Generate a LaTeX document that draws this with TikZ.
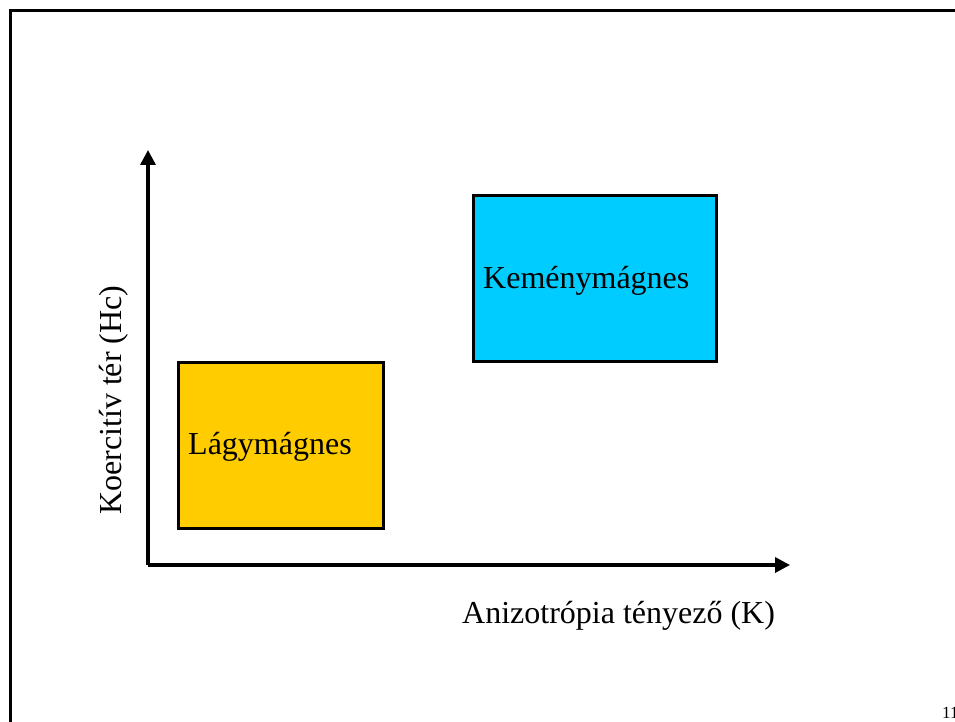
\documentclass[tikz,border=0pt]{standalone}
\usepackage{fontspec}
\setmainfont{Liberation Serif}
\usetikzlibrary{arrows.meta}
\definecolor{softyellow}{HTML}{FFCC00}
\definecolor{hardblue}{HTML}{00CCFF}
\tikzset{
  box/.style={draw=black,line width=3pt},
  axis/.style={line width=3.4pt,-{Triangle[length=15pt,width=15pt]}},
  lbl/.style={inner sep=0pt,anchor=base west,font=\fontsize{32}{38}\selectfont},
}
\begin{document}
\begin{tikzpicture}[x=1pt,y=-1pt]
\useasboundingbox (0,0) rectangle (955,722);
\begin{scope}
\clip (0,0) rectangle (955,722);
\draw[line width=2.8pt] (10.5,10.5) rectangle (980,740);
\node[inner sep=0pt,anchor=base west,font=\fontsize{17}{20}\selectfont] (pg) at (942,718) {11};
\end{scope}
\draw[box,fill=softyellow] (178,362) rectangle (383,528);
\draw[box,fill=hardblue] (473,196) rectangle (716,361);
\node[lbl] (soft) at (188,454) {Lágymágnes};
\node[lbl] (hard) at (483,288) {Keménymágnes};
\coordinate (o) at (148,565);
\coordinate (ytop) at (148,150);
\coordinate (xend) at (790,565);
\draw[axis] (o) -- (ytop);
\draw[axis] (o) -- (xend);
\node[lbl] (xl) at (462,623) {Anizotrópia tényező (K)};
\node[lbl,rotate=90] (yl) at (121,515) {Koercitív tér (Hc)};
\end{tikzpicture}
\end{document}
